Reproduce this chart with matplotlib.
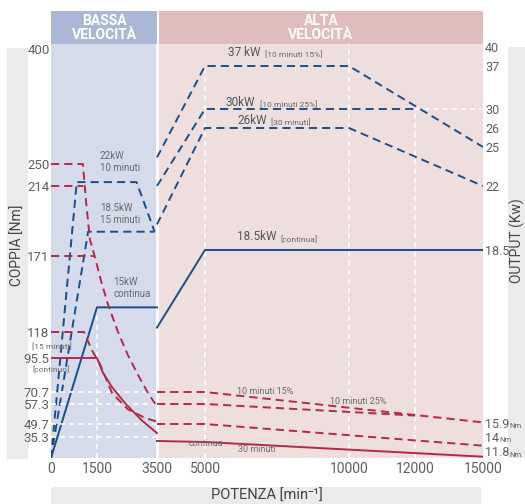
import numpy as np
import matplotlib.pyplot as plt
from matplotlib.patches import Rectangle

plt.rcParams['font.family'] = ['Roboto', 'DejaVu Sans']

# --- axis break points (the chart uses piecewise, non linear axes) ---
speed_ticks = [0, 1500, 3500, 5000, 10000, 12000, 15000]
torque_ticks = [35.3, 49.7, 57.3, 70.7, 95.5, 118, 171, 214, 250, 400]
power_ticks = [18.5, 22, 25, 26, 30, 37, 40]

# --- power curves [kW] vs speed [rpm] (right axis) ---
p22_x = [0, 840, 2820, 3420]
p22_y = [0, 22.3, 22.3, 19.5]
p185_low_x = [0, 1210, 3420]
p185_low_y = [0, 19.5, 19.5]
p15_x = [0, 1500, 3500]
p15_y = [0, 13.4, 13.4]
p37_x = [3500, 5000, 10000, 15000]
p37_y = [24.2, 37, 37, 25]
p30_x = [3500, 5000, 12000]
p30_y = [22.0, 30, 30]
p26_x = [3500, 5000, 10000, 15000]
p26_y = [19.9, 26, 26, 22]
p185_x = [3500, 5000, 15000]
p185_y = [11.6, 18.5, 18.5]

# --- torque curves [Nm] vs speed [rpm] (left axis) ---
t250_x = [0, 1040, 1140, 1270, 1435, 1630, 1870, 2200, 2530, 2870, 3200, 3500]
t250_y = [250, 250, 205, 181, 170, 154, 137, 118, 98, 83, 69.6, 56.3]
t214_x = [0, 1040]
t214_y = [214, 214]
t171_x = [0, 1435]
t171_y = [171, 171]
t118_x = [0, 1075, 1340, 1600, 2000, 2530, 3100, 3500]
t118_y = [118, 118, 102, 91, 69.6, 55.3, 52.0, 50.6]
t95_x = [0, 1500, 1700, 2000, 2430, 3000, 3500]
t95_y = [95.5, 95.5, 84.6, 74.3, 58.4, 51.0, 39.6]
h15_x = [3500, 5000, 15000]
h15_y = [70.7, 70.7, 50.3]
h25_x = [3500, 5000, 12000]
h25_y = [57.3, 57.3, 52.9]
h30_x = [3500, 5000, 15000]
h30_y = [49.7, 49.7, 20.7]
hcont_x = [3500, 5000, 15000]
hcont_y = [28.6, 26.9, 2.2]

blue = '#1b4f8a'
red = '#b32a4b'
grey = '#5e5e5e'
low_bg = '#d5dbea'
high_bg = '#eedede'
band = '#ebebeb'


def piecewise(vals, pos):
    return (lambda v: np.interp(v, vals, pos),
            lambda p: np.interp(p, pos, vals))


fig = plt.figure(figsize=(5.25, 5.04), dpi=100)
W, H = 525, 504


def fx(px):
    return px / W


def fy(py):
    return 1 - py / H


ax = fig.add_axes([fx(51), fy(458), 432 / W, 414 / H])

ax.set_xscale('function', functions=piecewise(
    [0, 1500, 3500, 5000, 10000, 12000, 15000],
    [0, 46, 106, 154, 298, 364, 432]))
ax.set_xlim(0, 15000)
ax.set_yscale('function', functions=piecewise(
    [0, 35.3, 49.7, 57.3, 70.7, 95.5, 118, 171, 214, 250, 400, 406.5],
    [0, 21, 34, 54, 66, 100, 126, 202, 272, 294, 409, 414]))
ax.set_ylim(0, 406.5)

ax2 = ax.twinx()
ax2.set_yscale('function', functions=piecewise(
    [0, 18.5, 22, 25, 26, 30, 37, 40, 40.47],
    [0, 208, 272, 311, 330, 349, 392, 411, 414]))
ax2.set_ylim(0, 40.47)

ax.set_zorder(2)
ax2.set_zorder(1)
ax.patch.set_visible(False)

# backgrounds
ax2.axvspan(0, 3500, color=low_bg, lw=0, zorder=0)
ax2.axvspan(3500, 15000, color=high_bg, lw=0, zorder=0)
ax2.axvline(3500, color='white', lw=2, zorder=1)

# white guides
wd = dict(color='white', lw=1.2, ls=(0, (3, 2.5)), zorder=1)
ax2.plot([1500, 1500], [0, 13.4], **wd)
ax2.plot([5000, 5000], [0, 37], **wd)
ax2.plot([10000, 10000], [0, 40.47], **wd)
ax2.plot([12000, 12000], [0, 30], **wd)
ax2.plot([12000, 15000], [30, 30], **wd)
for v in [70.7, 57.3, 49.7, 35.3]:
    ax.plot([0, 3500], [v, v], **wd)

dash = (0, (4.2, 2.6))
# power lines
for xs, ys, ls in [(p22_x, p22_y, dash), (p185_low_x, p185_low_y, dash),
                   (p15_x, p15_y, '-'), (p37_x, p37_y, dash),
                   (p30_x, p30_y, dash), (p26_x, p26_y, dash),
                   (p185_x, p185_y, '-')]:
    ax2.plot(xs, ys, color=blue, lw=1.4, ls=ls, zorder=3)

# torque lines
for xs, ys, ls in [(t250_x, t250_y, dash), (t214_x, t214_y, dash),
                   (t171_x, t171_y, dash), (t118_x, t118_y, dash),
                   (t95_x, t95_y, '-'), (h15_x, h15_y, dash),
                   (h25_x, h25_y, dash), (h30_x, h30_y, dash),
                   (hcont_x, hcont_y, '-')]:
    ax.plot(xs, ys, color=red, lw=1.4, ls=ls, zorder=3)

# ticks
ax.set_xticks(speed_ticks)
ax.set_xticklabels([str(v) for v in speed_ticks])
ax.set_yticks(torque_ticks)
ax.set_yticklabels(['35.3', '49.7', '57.3', '70.7', '95.5', '118', '171', '214', '250', '400'])
ax2.set_yticks(power_ticks)
ax2.set_yticklabels(['18.5', '22', '25', '26', '30', '37', '40'])
ax.tick_params(axis='x', length=0, pad=3, labelsize=10, labelcolor=grey)
ax.tick_params(axis='y', length=0, pad=1, labelsize=9.5, labelcolor=grey)
ax2.tick_params(axis='y', length=0, pad=1.5, labelsize=9, labelcolor=grey)
ax.minorticks_off()
ax2.minorticks_off()
for a in (ax, ax2):
    for s in a.spines.values():
        s.set_visible(False)

# header bands
ax.add_patch(Rectangle((0, 1), 106 / 432, 33 / 414, transform=ax.transAxes,
                       color='#abb8d5', lw=0, clip_on=False))
ax.add_patch(Rectangle((108 / 432, 1), 324 / 432, 33 / 414, transform=ax.transAxes,
                       color='#e1bcbc', lw=0, clip_on=False))
fig.text(fx(104), fy(28), 'BASSA\nVELOCITÀ', color='white', fontsize=10,
         fontweight='bold', ha='center', va='center', linespacing=1.0)
fig.text(fx(321), fy(28), 'ALTA\nVELOCITÀ', color='white', fontsize=10,
         fontweight='bold', ha='center', va='center', linespacing=1.0)

# side / bottom bands with axis titles
fig.add_artist(Rectangle((fx(7), fy(459)), 21 / W, 411 / H, transform=fig.transFigure,
                         color=band, lw=0, zorder=0))
fig.add_artist(Rectangle((fx(508), fy(458)), 17 / W, 411 / H, transform=fig.transFigure,
                         color=band, lw=0, zorder=0))
fig.add_artist(Rectangle((fx(51), 0), 430 / W, 17 / H, transform=fig.transFigure,
                         color=band, lw=0, zorder=0))
fig.text(fx(18), fy(245), 'COPPIA [Nm]', rotation=90, fontsize=10, color='#444444',
         ha='center', va='center')
fig.text(fx(517), fy(241), 'OUTPUT (Kw)', rotation=90, fontsize=10, color='#444444',
         ha='center', va='center')
fig.text(fx(267), fy(496), 'POTENZA [min⁻¹]', fontsize=10.5, color='#444444',
         ha='center', va='center')


def note(px, py, s, size=7, **kw):
    return fig.text(fx(px), fy(py), s, fontsize=size, color='#6a6a6a',
                    ha='left', va='center', linespacing=1.15, **kw)


def big_small(px, py, big, small, bsize=8.5, ssize=6):
    t = note(px, py, big, size=bsize)
    t.set_color('#555555')
    ax.annotate(small, xy=(1, 0), xycoords=t, xytext=(3, 0.5), textcoords='offset points',
                fontsize=ssize, color='#6a6a6a', ha='left', va='bottom')


note(100, 162, '22kW\n10 minuti')
note(100, 214, '18.5kW\n15 minuti')
note(113, 288, '15kW\ncontinua')
note(237, 391, '10 minuti 15%', size=6.5)
note(330, 401, '10 minuti 25%', size=6.5)
note(189, 444, 'continua', size=6.5)
note(238, 449, '30 minuti', size=6.5)
note(32, 346, '[15 minuti]', size=6)
note(32, 369, '[continuo]', size=6)

big_small(228, 52, '37 kW', '[10 minuti 15%]')
big_small(226, 102, '30kW', '[10 minuti 25%]')
big_small(237, 120, '26kW', '[30 minuti]')
big_small(237, 237, '18.5kW', '[continua]')

for py, num in [(424, '15.9'), (438, '14'), (453, '11.8')]:
    t = fig.text(fx(485), fy(py), num, fontsize=9, color=grey, ha='left', va='center')
    ax.annotate('Nm', xy=(1, 0), xycoords=t, xytext=(0.3, 1), textcoords='offset points',
                fontsize=5.5, color=grey, ha='left', va='bottom', annotation_clip=False)

fig.savefig('out.png', dpi=100)
